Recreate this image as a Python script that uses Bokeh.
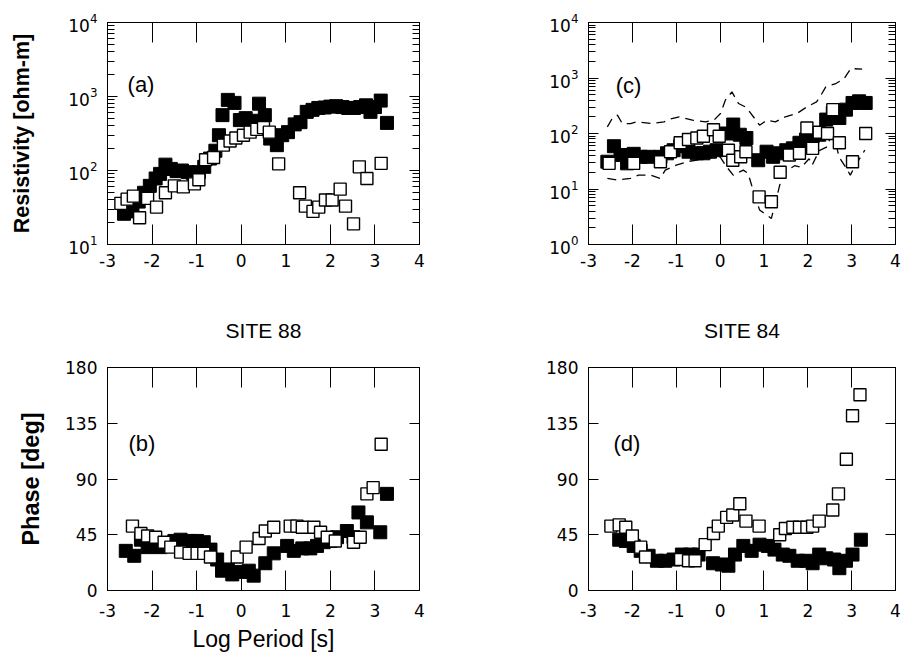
from bokeh.plotting import figure
from bokeh.layouts import row, column
from bokeh.models import FixedTicker, LinearAxis, LogAxis, Label, Range1d, Title
from bokeh.embed import file_html
from bokeh.resources import INLINE

FONT = "Liberation Sans"
TICK_FONT = "DejaVu Sans"

# ---------------- data ----------------
X_TICKS = [-3, -2, -1, 0, 1, 2, 3, 4]
X_TICK_LABELS = ["-3", "-2", "-1", "0", "1", "2", "3", "4"]
RHO_TICKS_A = [10, 100, 1000, 10000]
RHO_TICKS_C = [1, 10, 100, 1000, 10000]
PHASE_TICKS = [0, 45, 90, 135, 180]

# Site 88 apparent resistivity
a_fill_x = [-2.63, -2.5, -2.44, -2.3, -2.18, -2.05, -1.92, -1.82, -1.7, -1.58, -1.45, -1.33, -1.2, -1.08,
            -0.95, -0.83, -0.7, -0.58, -0.5, -0.42, -0.3, -0.15, -0.03, 0.1, 0.25, 0.4, 0.53, 0.65, 0.8,
            0.92, 1.05, 1.2, 1.33, 1.47, 1.6, 1.73, 1.87, 2.0, 2.13, 2.27, 2.4, 2.53, 2.67, 2.8, 2.9, 3.0,
            3.13, 3.27]
a_fill_y = [26, 28, 32, 38, 50, 62, 78, 90, 120, 105, 98, 100, 95, 92,
            95, 112, 145, 185, 300, 560, 900, 820, 480, 510, 470, 800, 560, 270, 220,
            300, 330, 420, 450, 620, 660, 700, 710, 730, 740, 720, 700, 700, 720, 760, 620, 720,
            880, 440]
a_open_x = [-2.7, -2.56, -2.42, -2.28, -2.1, -1.9, -1.7, -1.5, -1.3, -1.05, -0.95, -0.8, -0.62, -0.4,
            -0.25, -0.12, 0.05, 0.2, 0.35, 0.5, 0.63, 0.84, 1.31, 1.44, 1.61, 1.74, 1.89, 2.04, 2.22,
            2.34, 2.52, 2.65, 2.82, 3.14]
a_open_y = [36, 41, 45, 23, 42, 32, 50, 62, 60, 66, 75, 140, 150, 220,
            250, 275, 300, 330, 360, 380, 330, 123, 50, 33, 28, 32, 40, 40, 56,
            33, 19, 112, 78, 125]

# Site 88 phase
b_fill_x = [-2.59, -2.4, -2.25, -2.1, -1.96, -1.81, -1.6, -1.5, -1.36, -1.17, -0.99, -0.84, -0.69, -0.54,
            -0.43, -0.3, -0.2, -0.01, 0.17, 0.28, 0.54, 0.73, 1.03, 1.18, 1.37, 1.55, 1.7, 1.85, 2.0,
            2.15, 2.37, 2.52, 2.63, 2.82, 3.12, 3.27]
b_fill_y = [32, 28, 41, 35, 38, 35, 38, 40, 41, 40, 40, 39, 33, 25,
            16, 17, 13, 15, 16, 12, 22, 30, 36, 32, 34, 34, 36, 39, 40,
            43, 48, 43, 63, 55, 47, 78]
b_open_x = [-2.44, -2.25, -2.1, -1.92, -1.73, -1.58, -1.36, -1.17, -0.99, -0.84, -0.69, -0.09, 0.11,
            0.4, 0.54, 0.73, 1.1, 1.25, 1.37, 1.63, 1.78, 1.93, 2.11, 2.52, 2.67, 2.82, 2.96, 3.14]
b_open_y = [52, 46, 44, 43, 39, 35, 31, 30, 30, 30, 27, 27, 35,
            42, 48, 51, 52, 52, 51, 51, 47, 43, 40, 39, 43, 78, 83, 118]

# Site 84 apparent resistivity
c_fill_x = [-2.57, -2.42, -2.27, -2.12, -1.97, -1.81, -1.63, -1.36, -1.21, -1.06, -0.91, -0.72, -0.53,
            -0.38, -0.23, -0.08, 0.15, 0.3, 0.45, 0.6, 0.87, 1.06, 1.21, 1.36, 1.51, 1.66, 1.81, 1.96,
            2.11, 2.26, 2.42, 2.57, 2.72, 2.87, 3.02, 3.17, 3.32]
c_fill_y = [31, 59, 41, 29, 43, 38, 38, 38, 44, 50, 59, 47, 44,
            44, 47, 50, 100, 145, 95, 83, 33, 47, 38, 44, 50, 54, 68, 78,
            89, 95, 178, 234, 190, 269, 355, 380, 355]
c_open_x = [-2.53, -1.97, -1.36, -1.13, -0.91, -0.72, -0.53, -0.38, -0.15, -0.02, 0.19, 0.29, 0.47,
            0.59, 0.89, 1.17, 1.37, 1.58, 1.81, 1.98, 2.11, 2.26, 2.45, 2.57, 2.72, 3.02, 3.32]
c_open_y = [29, 29, 31, 47, 68, 78, 83, 89, 117, 89, 50, 33, 38,
            47, 7.2, 5.9, 20, 41, 44, 126, 54, 105, 100, 269, 68, 31, 100]
c_upper_x = [-2.57, -2.46, -2.34, -2.23, -2.04, -1.9, -1.55, -1.28, -1.1, -0.93, -0.63, -0.33, -0.14,
             0.01, 0.12, 0.27, 0.42, 0.6, 0.79, 0.9, 1.07, 1.26, 1.49, 1.75, 1.98, 2.2, 2.3, 2.41, 2.64,
             2.83, 2.98, 3.24]
c_upper_y = [132, 186, 214, 151, 151, 162, 151, 162, 186, 200, 174, 162, 174,
             229, 398, 562, 347, 295, 186, 141, 174, 162, 200, 229, 302, 372, 490, 692, 794,
             977, 1479, 1445]
c_lower_x = [-2.57, -2.35, -2.04, -1.86, -1.59, -1.36, -1.25, -1.0, -0.7, -0.3, 0.0, 0.15, 0.3, 0.53,
             0.64, 0.72, 0.9, 1.17, 1.36, 1.43, 1.7, 1.85, 2.03, 2.1, 2.26, 2.44, 2.52, 2.63, 2.71, 2.86,
             2.97, 3.09, 3.16, 3.3]
c_lower_y = [15.5, 14.5, 15.5, 17.8, 17.8, 15.5, 21.9, 26.9, 31.6, 35.5, 38, 25.1, 17.8, 21.9,
             19, 11.7, 4.2, 2.95, 11.7, 19, 26.3, 24.5, 35, 27, 49, 57.5, 87, 74, 38, 25,
             17.8, 27, 33, 50]

# Site 84 phase
d_fill_x = [-2.3, -2.15, -1.97, -1.81, -1.63, -1.44, -1.25, -1.06, -0.87, -0.68, -0.49, -0.16, 0.04,
            0.19, 0.34, 0.53, 0.72, 0.9, 1.09, 1.24, 1.43, 1.58, 1.77, 1.96, 2.11, 2.26, 2.42, 2.6,
            2.72, 2.87, 3.02, 3.21]
d_fill_y = [41, 40, 36, 32, 28, 24, 24, 25, 29, 29, 29, 22, 21,
            20, 29, 36, 32, 37, 36, 33, 29, 28, 24, 24, 22, 29, 26, 25,
            18, 24, 29, 41]
d_open_x = [-2.49, -2.3, -2.15, -2.0, -1.81, -1.7, -0.9, -0.72, -0.57, -0.34, -0.15, -0.04, 0.15,
            0.29, 0.45, 0.59, 0.89, 1.36, 1.49, 1.66, 1.81, 1.98, 2.11, 2.26, 2.57, 2.7, 2.88, 3.02,
            3.19]
d_open_y = [52, 53, 51, 44, 35, 27, 25, 24, 24, 37, 46, 52, 59,
            61, 70, 56, 52, 45, 50, 51, 51, 51, 52, 56, 65, 78, 106, 141,
            158]


def minor_log(lo_exp, hi_exp):
    out = []
    for e in range(lo_exp, hi_exp):
        for m in range(2, 10):
            out.append(m * 10 ** e)
    return out


def axis_style(ax, tick_in, minor_in, standoff, show_labels=True):
    ax.axis_line_color = "black"
    ax.axis_line_width = 1
    ax.major_tick_in = tick_in
    ax.major_tick_out = 0
    ax.minor_tick_in = minor_in
    ax.minor_tick_out = 0
    ax.major_tick_line_color = "black"
    ax.minor_tick_line_color = "black"
    ax.major_label_standoff = standoff
    ax.major_label_text_font = TICK_FONT
    if show_labels:
        ax.major_label_text_color = "black"
        ax.major_label_text_font_size = "17px"
    else:
        ax.major_label_text_alpha = 0
        ax.major_label_text_font_size = "1px"


def make_panel(ylog, y_range, yticks, yminor, fw, min_left, min_right, min_top, min_bottom,
               xlab_standoff, fh=None, total_h=None):
    size_kw = {"frame_height": fh} if fh is not None else {"height": total_h}
    p = figure(frame_width=fw,
               x_range=Range1d(-3, 4), y_range=Range1d(*y_range),
               y_axis_type="log" if ylog else "linear",
               output_backend="svg", toolbar_location=None,
               min_border_left=min_left, min_border_right=min_right,
               min_border_top=min_top, min_border_bottom=min_bottom, **size_kw)
    p.outline_line_color = "black"
    p.outline_line_width = 1
    p.grid.visible = False
    xt = FixedTicker(ticks=X_TICKS, minor_ticks=[])
    yt = FixedTicker(ticks=yticks, minor_ticks=yminor)
    bottom = p.below[0]
    left = p.left[0]
    bottom.ticker = xt
    left.ticker = yt
    axis_style(bottom, 20, 0, xlab_standoff)
    bottom.major_label_overrides = dict(zip(X_TICKS, X_TICK_LABELS))
    axis_style(left, 10, 7, 10)
    top = LinearAxis(ticker=xt)
    axis_style(top, 20, 0, 0, show_labels=False)
    p.add_layout(top, "above")
    right = LogAxis(ticker=yt) if ylog else LinearAxis(ticker=yt)
    axis_style(right, 10, 7, 0, show_labels=False)
    p.add_layout(right, "right")
    return p


def add_series(p, fx, fy, ox, oy):
    p.scatter(fx, fy, marker="square", size=13, fill_color="black", line_color="black", line_width=1)
    p.scatter(ox, oy, marker="square", size=12, fill_color="white", line_color="black", line_width=1.4)


def tag(p, x, y, text):
    p.add_layout(Label(x=x, y=y, text=text, text_font=FONT, text_font_size="22px",
                       text_baseline="middle", text_align="left", text_color="black"))


def site_title(p, text):
    p.add_layout(Title(text=text, align="center", text_font=FONT, text_font_size="21px",
                       text_font_style="normal", text_color="black", standoff=51), "above")


def y_label(ax, text, size, standoff):
    ax.axis_label = text
    ax.axis_label_text_font = FONT
    ax.axis_label_text_font_style = "bold"
    ax.axis_label_text_font_size = size
    ax.axis_label_standoff = standoff
    ax.axis_label_text_color = "black"


# ---------------- panel (a) ----------------
pa = make_panel(True, (10, 10000), RHO_TICKS_A, minor_log(1, 4), 312, 107, 29, 22, 45, 9, fh=222)
add_series(pa, a_fill_x, a_fill_y, a_open_x, a_open_y)
tag(pa, -2.55, 1445, "(a)")
y_label(pa.left[0], "Resistivity [ohm-m]", "21.5px", 31)

# ---------------- panel (b) ----------------
pb = make_panel(False, (0, 180), PHASE_TICKS, [], 312, 107, 29, 78, 65, 13, total_h=366)
add_series(pb, b_fill_x, b_fill_y, b_open_x, b_open_y)
tag(pb, -2.53, 118.5, "(b)")
y_label(pb.left[0], "Phase [deg]", "23.5px", 18)
xb = pb.below[0]
xb.axis_label = "Log Period [s]"
xb.axis_label_text_font = FONT
xb.axis_label_text_font_style = "normal"
xb.axis_label_text_font_size = "23px"
xb.axis_label_standoff = 6
xb.axis_label_text_color = "black"
site_title(pb, "SITE 88")

# ---------------- panel (c) ----------------
pc = make_panel(True, (1, 10000), RHO_TICKS_C, minor_log(0, 4), 307, 140, 6, 22, 45, 9, fh=222)
pc.line(c_upper_x, c_upper_y, line_color="black", line_width=1.3, line_dash="9 6")
pc.line(c_lower_x, c_lower_y, line_color="black", line_width=1.3, line_dash="9 6")
add_series(pc, c_fill_x, c_fill_y, c_open_x, c_open_y)
tag(pc, -2.38, 741, "(c)")

# ---------------- panel (d) ----------------
pd = make_panel(False, (0, 180), PHASE_TICKS, [], 307, 140, 6, 78, 65, 13, total_h=366)
add_series(pd, d_fill_x, d_fill_y, d_open_x, d_open_y)
tag(pd, -2.43, 119, "(d)")
site_title(pd, "SITE 84")

layout = row(column(pa, pb), column(pc, pd))

open("out.html", "w").write(file_html(layout, INLINE))
